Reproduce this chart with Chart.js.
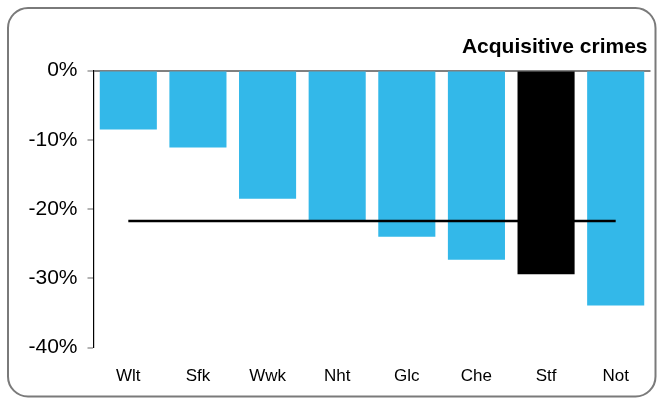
<!DOCTYPE html>
<html>
<head>
<meta charset="utf-8">
<script src="https://cdn.jsdelivr.net/npm/chart.js@4/dist/chart.umd.min.js"></script>
<style>
  html, body { margin: 0; padding: 0; background: #fff; }
  #wrap { width: 657px; height: 399px; }
</style>
</head>
<body>
<div id="wrap"><canvas id="chart" width="657" height="399"></canvas></div>
<script>
// Forces
const categories = ['Wlt', 'Sfk', 'Wwk', 'Nht', 'Glc', 'Che', 'Stf', 'Not'];
// Change in acquisitive crimes, %
const changeValues = [-8.5, -11.1, -18.5, -21.6, -24.0, -27.3, -29.4, -33.9];
// Comparison level across all forces, %
const averageValues = [-21.7, -21.7, -21.7, -21.7, -21.7, -21.7, -21.7, -21.7];
// Highlighted force drawn in black
const highlight = 'Stf';
const yTicks = { min: -40, max: 0, step: 10 };
const chartTitle = 'Acquisitive crimes';

const BLUE = '#33b8e9';
const FONT = '"Liberation Sans", Arial, sans-serif';

// White background, rounded grey frame and the right-aligned heading
const framePlugin = {
  id: 'frame',
  beforeDraw(chart) {
    const ctx = chart.ctx;
    ctx.save();
    ctx.fillStyle = '#ffffff';
    ctx.fillRect(0, 0, chart.width, chart.height);
    ctx.beginPath();
    ctx.roundRect(8, 8, 647.5, 388.5, 20);
    ctx.lineWidth = 2;
    ctx.strokeStyle = '#7a7a7a';
    ctx.stroke();
    ctx.fillStyle = '#000000';
    ctx.font = 'bold 21px ' + FONT;
    ctx.textAlign = 'right';
    ctx.textBaseline = 'alphabetic';
    ctx.fillText(chartTitle, 647.5, 52.5);
    ctx.restore();
  }
};

new Chart(document.getElementById('chart'), {
  data: {
    labels: categories,
    datasets: [
      {
        type: 'line',
        data: averageValues,
        borderColor: '#000000',
        borderWidth: 2.5,
        pointRadius: 0,
        fill: false,
        order: 0
      },
      {
        type: 'bar',
        data: changeValues,
        backgroundColor: categories.map(c => c === highlight ? '#000000' : BLUE),
        borderWidth: 0,
        barPercentage: 0.82,
        categoryPercentage: 1,
        order: 1
      }
    ]
  },
  options: {
    responsive: false,
    devicePixelRatio: 1,
    animation: false,
    layout: { padding: { top: 70.5, right: 6.5, bottom: 0, left: 0 } },
    plugins: {
      legend: { display: false },
      tooltip: { enabled: false },
      title: { display: false }
    },
    scales: {
      x: {
        grid: { display: false, drawTicks: false },
        border: { display: false },
        ticks: {
          color: '#000000',
          font: { family: FONT, size: 17 },
          padding: 18,
          maxRotation: 0
        },
        afterFit(scale) { scale.height = 51.3; }
      },
      y: {
        min: yTicks.min,
        max: yTicks.max,
        z: 1,
        grid: {
          color: c => (c.tick && c.tick.value === 0) ? '#808080' : 'rgba(0,0,0,0)',
          lineWidth: c => (c.tick && c.tick.value === 0) ? 2 : 0,
          drawTicks: true,
          tickLength: 6,
          tickColor: '#808080',
          tickWidth: 1.2
        },
        border: { display: true, color: '#000000', width: 1.2 },
        ticks: {
          stepSize: yTicks.step,
          color: '#000000',
          padding: 10,
          font: { family: FONT, size: 21 },
          callback: v => v + '%'
        },
        afterFit(scale) { scale.width = 93.5; }
      }
    }
  },
  plugins: [framePlugin]
});
</script>
</body>
</html>
